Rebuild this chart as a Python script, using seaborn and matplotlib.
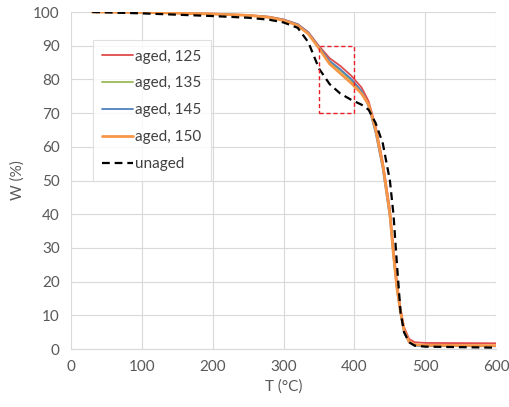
import matplotlib
matplotlib.use("Agg")
import matplotlib.pyplot as plt
from matplotlib.patches import Rectangle
import seaborn as sb

# temperature grid (degC)
T = [30, 100, 200, 250, 280, 300, 320, 335, 350, 365, 380, 395, 410,
     420, 430, 440, 450, 455, 460, 465, 470, 477, 485, 500, 600]

# weight (%) for each sample
aged_125 = [100, 99.9, 99.5, 99.1, 98.6, 97.8, 96.4, 94.0, 89.9, 86.3, 84.0, 81.2, 77.6,
            73.5, 66.0, 55.5, 41.5, 30.0, 20.0, 12.0, 6.5, 3.0, 2.0, 1.8, 1.7]
aged_135 = [100, 99.9, 99.4, 99.0, 98.5, 97.6, 96.2, 93.7, 89.5, 85.2, 82.7, 79.8, 76.3,
            72.5, 65.0, 54.5, 40.0, 28.5, 18.5, 11.0, 5.5, 2.2, 1.1, 1.0, 0.9]
aged_145 = [100, 99.9, 99.4, 99.0, 98.5, 97.7, 96.3, 93.9, 89.6, 85.5, 83.0, 80.2, 76.6,
            72.0, 64.0, 53.5, 39.0, 27.5, 17.5, 10.5, 5.0, 2.0, 1.0, 0.9, 0.8]
aged_150 = [100, 99.9, 99.4, 99.0, 98.4, 97.5, 96.0, 93.5, 89.2, 84.6, 81.8, 79.0, 75.8,
            72.5, 65.0, 54.5, 40.0, 28.0, 18.0, 11.0, 5.5, 2.2, 1.3, 1.1, 1.0]
unaged = [100, 99.6, 98.8, 98.3, 97.7, 96.9, 95.3, 91.0, 83.2, 78.6, 75.8, 74.0, 72.5,
          71.0, 67.0, 61.0, 50.0, 40.0, 25.0, 11.0, 5.0, 2.0, 1.0, 0.7, 0.4]

labels = ['aged, 125', 'aged, 135', 'aged, 145', 'aged, 150', 'unaged']
colors = ['#E04B4B', '#9BBB59', '#4F81BD', '#F79646', 'black']

# zoom box drawn on the chart
box_T = (350, 400)
box_W = (70, 90)

sb.set_style('white')
plt.rcParams['font.family'] = ['Lato', 'DejaVu Sans']

fig = plt.figure(figsize=(5.1, 4.07), dpi=100)
ax = fig.add_axes([0.139, 0.1425, 0.834, 0.828])

series = [aged_125, aged_135, aged_145, aged_150, unaged]
for w, lab, col in zip(series, labels, colors):
    if lab == 'unaged':
        sb.lineplot(x=T, y=w, ax=ax, color=col, label=lab, linewidth=1.6,
                    linestyle=(0, (3.5, 2.2)), zorder=5)
    elif lab == 'aged, 150':
        sb.lineplot(x=T, y=w, ax=ax, color=col, label=lab, linewidth=2.0, zorder=4)
    else:
        sb.lineplot(x=T, y=w, ax=ax, color=col, label=lab, linewidth=1.3, zorder=3)

# red dashed box around the shoulder
ax.add_patch(Rectangle((box_T[0], box_W[0]), box_T[1] - box_T[0], box_W[1] - box_W[0],
                       fill=False, edgecolor='#E8202A', linestyle=(0, (3, 2)),
                       linewidth=1.0, zorder=6))

ax.set_xlim(0, 600)
ax.set_ylim(0, 100)
ax.set_xticks(range(0, 601, 100))
ax.set_yticks(range(0, 101, 10))
ax.grid(True, color='#d9d9d9', linewidth=0.8)
ax.set_axisbelow(True)
for s in ax.spines.values():
    s.set_visible(False)
ax.spines['bottom'].set_visible(True)
ax.spines['bottom'].set_color('#d9d9d9')

ax.tick_params(axis='both', colors='#595959', labelsize=11, length=0, pad=8)
ax.set_xlabel('T (°C)', color='#595959', fontsize=11, labelpad=4)
ax.set_ylabel('W (%)', color='#595959', fontsize=11, labelpad=6)

leg = ax.legend(loc='upper left', bbox_to_anchor=(0.045, 0.925), fontsize=11,
                frameon=True, fancybox=False, edgecolor='#d9d9d9',
                handlelength=2.0, handletextpad=0.15, labelspacing=0.85,
                borderpad=0.6, borderaxespad=0.2)
leg.get_frame().set_linewidth(0.8)
for t in leg.get_texts():
    t.set_color('#404040')

fig.savefig('out.png', dpi=100)
